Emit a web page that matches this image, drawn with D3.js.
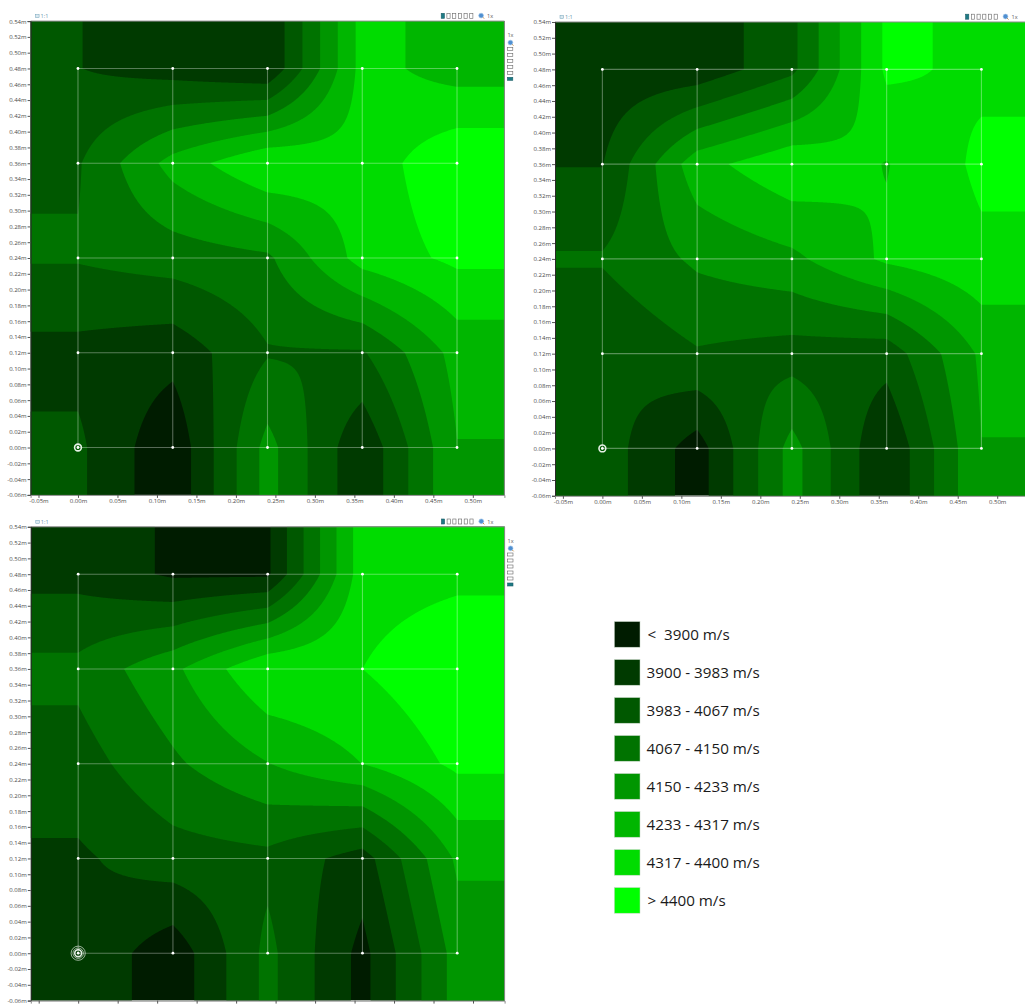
<!DOCTYPE html>
<html>
<head>
<meta charset="utf-8">
<script src="https://cdn.jsdelivr.net/npm/d3@7"></script>
<style>
html,body{margin:0;padding:0;background:#fff;overflow:hidden}
svg{display:block}
text{font-family:"Open Sans","Noto Sans",sans-serif}
</style>
</head>
<body>
<svg id="c" width="1025" height="1005"></svg>
<script>
// Sensor positions (metres)
const sensorX = [0, 0.12, 0.24, 0.36, 0.48];
const sensorY = [0, 0.12, 0.24, 0.36, 0.48];

// Pulse velocity at each sensor (m/s); rows run from y = 0 up to y = 0.48
const velocityA = [
  [3999, 3833, 4180, 3913, 4230],
  [3957, 3929, 4060, 4058, 4263],
  [4074, 4105, 4135, 4351, 4418],
  [4059, 4264, 4398, 4348, 4471],
  [3985, 3944, 3903, 4348, 4280]
];
const velocityB = [
  [4028, 3861, 4181, 3903, 4231],
  [3990, 4059, 4031, 4018, 4248],
  [4075, 4165, 4213, 4333, 4382],
  [3980, 4284, 4384, 4313, 4418],
  [3920, 3923, 4045, 4417, 4382]
];
const velocityC = [
  [3972, 3845, 4090, 3874, 4184],
  [3970, 4030, 4044, 3944, 4248],
  [4030, 4136, 4230, 4318, 4418],
  [4090, 4214, 4398, 4400, 4469],
  [3955, 3887, 3886, 4364, 4380]
];

const bandLimits = [3900, 3983, 4067, 4150, 4233, 4317, 4400];
const bandColors = ["#001c00", "#003a00", "#005800", "#007300", "#009600", "#00b600", "#00dc00", "#00ff00"];
const legendLabels = ["<  3900 m/s", "3900 - 3983 m/s", "3983 - 4067 m/s", "4067 - 4150 m/s",
                      "4150 - 4233 m/s", "4233 - 4317 m/s", "4317 - 4400 m/s", "> 4400 m/s"];

const xTicks = [-0.05, 0, 0.05, 0.10, 0.15, 0.20, 0.25, 0.30, 0.35, 0.40, 0.45, 0.50];
const yTicks = [-0.06, -0.04, -0.02, 0, 0.02, 0.04, 0.06, 0.08, 0.10, 0.12, 0.14, 0.16, 0.18, 0.20,
                0.22, 0.24, 0.26, 0.28, 0.30, 0.32, 0.34, 0.36, 0.38, 0.40, 0.42, 0.44, 0.46, 0.48, 0.50, 0.52, 0.54];
const domain = [-0.06, 0.54];

// Layout
const panels = [
  {id: "a", values: velocityA, left: 30.6, top: 21.1, size: 473.8, xLabels: true, sideBar: true, rings: 0},
  {id: "b", values: velocityB, left: 555,  top: 22,   size: 473.8, xLabels: true, sideBar: false, rings: 0},
  {id: "c", values: velocityC, left: 30.8, top: 526.8, size: 473.8, xLabels: false, sideBar: true, rings: 2}
];

const svg = d3.select("#c");
const step = 0.001;
const cols = Math.round((domain[1] - domain[0]) / step) + 1;

// The surface between sensors is bilinear and held constant past the outermost sensors.
function surface(values) {
  const pos = d3.scaleLinear().domain(sensorX).range(d3.range(sensorX.length)).clamp(true);
  const field = new Float64Array(cols * cols);
  for (let j = 0; j < cols; j++) {
    const v = pos(domain[0] + j * step);
    const r = Math.min(Math.floor(v), sensorY.length - 2), ty = v - r;
    for (let i = 0; i < cols; i++) {
      const u = pos(domain[0] + i * step);
      const c = Math.min(Math.floor(u), sensorX.length - 2), tx = u - c;
      const low = values[r][c] * (1 - tx) + values[r][c + 1] * tx;
      const high = values[r + 1][c] * (1 - tx) + values[r + 1][c + 1] * tx;
      field[j * cols + i] = low * (1 - ty) + high * ty;
    }
  }
  return field;
}

function magnifier(g, x, y) {
  g.append("line").attr("x1", x + 1).attr("y1", y + 1).attr("x2", x + 3).attr("y2", y + 3)
    .attr("stroke", "#c98a3a").attr("stroke-width", 1);
  g.append("circle").attr("cx", x).attr("cy", y).attr("r", 2.4).attr("fill", "#4f8fd0").attr("stroke", "#9cc3e8").attr("stroke-width", 0.6);
}

panels.forEach(p => {
  const x = d3.scaleLinear().domain(domain).range([p.left, p.left + p.size]);
  const y = d3.scaleLinear().domain(domain).range([p.top + p.size, p.top]);
  const g = svg.append("g");

  g.append("clipPath").attr("id", "clip-" + p.id).append("rect")
    .attr("x", p.left).attr("y", p.top).attr("width", p.size).attr("height", p.size);

  const plot = g.append("g").attr("clip-path", `url(#clip-${p.id})`);
  plot.append("rect").attr("x", p.left).attr("y", p.top).attr("width", p.size).attr("height", p.size)
    .attr("fill", bandColors[0]);

  const contours = d3.contours().size([cols, cols]).smooth(true).thresholds(bandLimits)(surface(p.values));
  const toScreen = d3.geoTransform({
    point(gx, gy) {
      this.stream.point(x(domain[0] + (gx - 0.5) * step), y(domain[0] + (gy - 0.5) * step));
    }
  });
  const path = d3.geoPath(toScreen);
  const color = d3.scaleThreshold().domain(bandLimits).range(bandColors);
  plot.selectAll("path.band").data(contours).join("path").attr("class", "band")
    .attr("d", path).attr("fill", d => color(d.value));

  // Sensor grid
  const grid = g.append("g").attr("stroke", "#fff").attr("stroke-opacity", 0.34).attr("stroke-width", 1.1);
  sensorX.forEach(sx => grid.append("line").attr("x1", x(sx)).attr("x2", x(sx))
    .attr("y1", y(sensorY[0])).attr("y2", y(sensorY[sensorY.length - 1])));
  sensorY.forEach(sy => grid.append("line").attr("y1", y(sy)).attr("y2", y(sy))
    .attr("x1", x(sensorX[0])).attr("x2", x(sensorX[sensorX.length - 1])));
  sensorY.forEach(sy => sensorX.forEach(sx => {
    g.append("circle").attr("cx", x(sx)).attr("cy", y(sy)).attr("r", 1.4).attr("fill", "#fff");
  }));

  // Origin marker
  const ox = x(0), oy = y(0);
  g.append("circle").attr("cx", ox).attr("cy", oy).attr("r", 3.4).attr("fill", "none").attr("stroke", "#e6f0e6").attr("stroke-width", 1.6);
  d3.range(p.rings).forEach(k => g.append("circle").attr("cx", ox).attr("cy", oy).attr("r", 5.2 + k * 1.9)
    .attr("fill", "none").attr("stroke", "#fff").attr("stroke-width", 0.6));
  g.append("circle").attr("cx", ox).attr("cy", oy).attr("r", 1).attr("fill", "#fff");

  // Frame
  g.append("path").attr("fill", "none").attr("stroke", "#8a8a8a").attr("stroke-width", 1)
    .attr("d", `M${p.left},${p.top}H${p.left + p.size}V${p.top + p.size}`);

  // Axes
  const yAxis = d3.axisLeft(y).tickValues(yTicks).tickSize(3).tickPadding(1).tickFormat(d => d.toFixed(2) + "m");
  const xAxis = d3.axisBottom(x).tickValues(xTicks).tickSize(3).tickPadding(1)
    .tickFormat(d => p.xLabels ? d.toFixed(2) + "m" : "");
  const ya = g.append("g").attr("transform", `translate(${p.left},0)`).call(yAxis);
  const xa = g.append("g").attr("transform", `translate(0,${p.top + p.size})`).call(xAxis);
  [ya, xa].forEach(a => {
    a.selectAll("text").attr("font-size", 6).attr("fill", "#4a4a4a").attr("font-family", '"Open Sans",sans-serif');
    a.selectAll("line").attr("stroke", "#555");
    a.select(".domain").attr("stroke", "#2a2a2a");
  });
  xa.select(".domain").attr("stroke", "#8a8a8a");

  // Toolbars
  const tb = g.append("g");
  tb.append("rect").attr("x", p.left + 5).attr("y", p.top - 6.5).attr("width", 3.5).attr("height", 3)
    .attr("fill", "#dbe9f0").attr("stroke", "#6fa0b8").attr("stroke-width", 0.5);
  tb.append("text").attr("x", p.left + 10).attr("y", p.top - 3).attr("font-size", 5.5).attr("fill", "#5f93ab").text("1:1");

  const boxX = d3.range(6).map(k => p.left + 410.6 + k * 5.7);
  tb.selectAll("rect.top").data(boxX).join("rect").attr("class", "top")
    .attr("x", d => d).attr("y", p.top - 7.8).attr("width", 3.2).attr("height", 5)
    .attr("fill", (d, i) => i ? "#fff" : "#1d7a85").attr("stroke", (d, i) => i ? "#666" : "#1d5f68").attr("stroke-width", 0.6);
  magnifier(tb, p.left + 450.5, p.top - 5.5);
  tb.append("text").attr("x", p.left + 456.5).attr("y", p.top - 3).attr("font-size", 5.5).attr("fill", "#555").text("1x");

  if (p.sideBar) {
    const sx = p.left + p.size + 3;
    tb.append("text").attr("x", sx + 3).attr("y", p.top + 16).attr("text-anchor", "middle").attr("font-size", 5.5).attr("fill", "#555").text("1x");
    magnifier(tb, sx + 3, p.top + 21.5);
    const boxY = d3.range(6).map(k => p.top + 26.2 + k * 6);
    tb.selectAll("rect.side").data(boxY).join("rect").attr("class", "side")
      .attr("x", sx).attr("y", d => d).attr("width", 5.4).attr("height", 3)
      .attr("fill", (d, i) => i < 5 ? "#fff" : "#1d7a85").attr("stroke", (d, i) => i < 5 ? "#666" : "#1d5f68").attr("stroke-width", 0.6);
  }
});

// Legend
const legend = svg.append("g");
const row = d3.scaleLinear().domain([0, 1]).range([621.6, 659.6]);
legendLabels.forEach((label, i) => {
  legend.append("rect").attr("x", 614.4).attr("y", row(i)).attr("width", 25.6).attr("height", 25.6)
    .attr("fill", bandColors[i]).attr("stroke", "#c4d4c4").attr("stroke-width", 0.5);
  legend.append("text").attr("x", i === 0 || i === 7 ? 647.5 : 646.6).attr("y", row(i) + 18.6)
    .attr("font-size", 15.2).attr("fill", "#1a1a1a").style("white-space", "pre").text(label);
});
</script>
</body>
</html>
